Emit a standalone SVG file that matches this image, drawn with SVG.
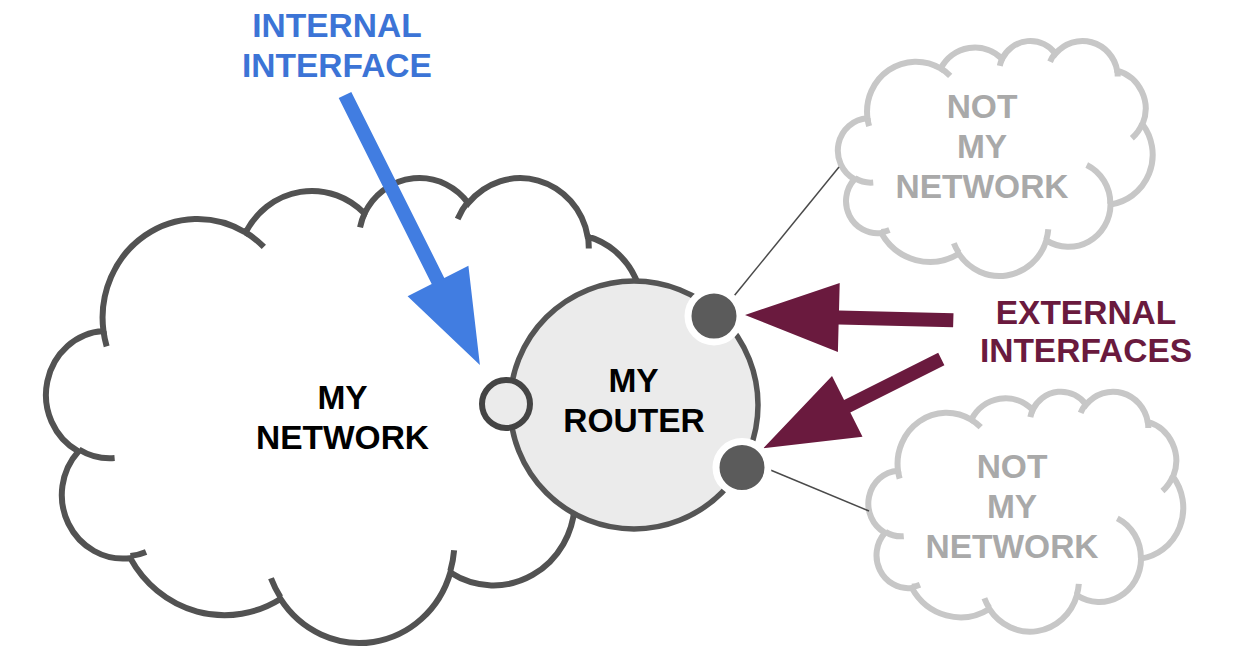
<svg xmlns="http://www.w3.org/2000/svg" width="1257" height="658" viewBox="0 0 1257 658">
<style>
.t{font-family:"Liberation Sans",Arial,Helvetica,sans-serif;font-weight:bold;font-size:33.5px;text-anchor:middle}
.cl{fill:#ffffff;stroke-width:6;vector-effect:non-scaling-stroke;stroke-linejoin:miter}
.hk{fill:none;stroke-width:6;vector-effect:non-scaling-stroke;stroke-linecap:butt}
.dark{stroke:#525252}
.light{stroke:#c7c7c7}
.ext{fill:#5b5b5b;stroke:#ffffff;stroke-width:7}
.thin{stroke:#4a4a4a;stroke-width:1.5;fill:none}
</style>
<rect width="1257" height="658" fill="#ffffff"/>

<g id="my-network">
<path class="cl dark" transform="translate(48.6,176.5) scale(0.014067,0.010758)" d="M3900,14370 A6753,9190 0 0 1 14005,5202 A5333,7267 0 0 1 22456,3433 A4365,5945 0 0 1 29833,2482 A4857,6595 0 0 1 38318,5577 A5333,7273 0 0 1 41818,15461 A6775,9220 0 0 1 37406,30208 A5785,7867 0 0 1 28558,36818 A6752,9215 0 0 1 16484,39272 A7720,10543 0 0 1 5807,35476 A4360,5918 0 0 1 2116,25554 A4345,5945 0 0 1 3900,14370 Z"/>
<path class="hk dark" transform="translate(48.6,176.5) scale(0.014067,0.010758)" d="M4693,26177 A4345,5945 0 0 1 2159,25379 M6928,34899 A4360,5918 0 0 1 5819,35281 M16478,39090 A6752,9215 0 0 1 15809,37347 M28827,34751 A6752,9215 0 0 1 28560,36660 M34129,22954 A5785,7867 0 0 1 37381,30090 M41798,15354 A5333,7273 0 0 1 40350,18031 M38324,5426 A4857,6595 0 0 1 38400,6690 M29078,3952 A4857,6595 0 0 1 29820,2340 M22141,4720 A4365,5945 0 0 1 22500,3330 M14000,5192 A6753,9190 0 0 1 15301,6542 M4127,15789 A6753,9190 0 0 1 3900,14370"/>
<text class="t" x="342.5" y="408.5" fill="#000000">MY</text>
<text class="t" x="342.5" y="448.5" fill="#000000">NETWORK</text>
</g>

<g id="not-my-network-1">
<path class="cl light" transform="translate(839.2,40.2) scale(0.007253,0.005437)" d="M3900,14370 A6753,9190 0 0 1 14005,5202 A5333,7267 0 0 1 22456,3433 A4365,5945 0 0 1 29833,2482 A4857,6595 0 0 1 38318,5577 A5333,7273 0 0 1 41818,15461 A6775,9220 0 0 1 37406,30208 A5785,7867 0 0 1 28558,36818 A6752,9215 0 0 1 16484,39272 A7720,10543 0 0 1 5807,35476 A4360,5918 0 0 1 2116,25554 A4345,5945 0 0 1 3900,14370 Z"/>
<path class="hk light" transform="translate(839.2,40.2) scale(0.007253,0.005437)" d="M4693,26177 A4345,5945 0 0 1 2159,25379 M6928,34899 A4360,5918 0 0 1 5819,35281 M16478,39090 A6752,9215 0 0 1 15809,37347 M28827,34751 A6752,9215 0 0 1 28560,36660 M34129,22954 A5785,7867 0 0 1 37381,30090 M41798,15354 A5333,7273 0 0 1 40350,18031 M38324,5426 A4857,6595 0 0 1 38400,6690 M29078,3952 A4857,6595 0 0 1 29820,2340 M22141,4720 A4365,5945 0 0 1 22500,3330 M14000,5192 A6753,9190 0 0 1 15301,6542 M4127,15789 A6753,9190 0 0 1 3900,14370"/>
<text class="t" x="982" y="118.3" fill="#a9a9a9">NOT</text>
<text class="t" x="982" y="158.3" fill="#a9a9a9">MY</text>
<text class="t" x="982" y="198.3" fill="#a9a9a9">NETWORK</text>
</g>

<g id="not-my-network-2">
<path class="cl light" transform="translate(869.7,390.9) scale(0.007255,0.005553)" d="M3900,14370 A6753,9190 0 0 1 14005,5202 A5333,7267 0 0 1 22456,3433 A4365,5945 0 0 1 29833,2482 A4857,6595 0 0 1 38318,5577 A5333,7273 0 0 1 41818,15461 A6775,9220 0 0 1 37406,30208 A5785,7867 0 0 1 28558,36818 A6752,9215 0 0 1 16484,39272 A7720,10543 0 0 1 5807,35476 A4360,5918 0 0 1 2116,25554 A4345,5945 0 0 1 3900,14370 Z"/>
<path class="hk light" transform="translate(869.7,390.9) scale(0.007255,0.005553)" d="M4693,26177 A4345,5945 0 0 1 2159,25379 M6928,34899 A4360,5918 0 0 1 5819,35281 M16478,39090 A6752,9215 0 0 1 15809,37347 M28827,34751 A6752,9215 0 0 1 28560,36660 M34129,22954 A5785,7867 0 0 1 37381,30090 M41798,15354 A5333,7273 0 0 1 40350,18031 M38324,5426 A4857,6595 0 0 1 38400,6690 M29078,3952 A4857,6595 0 0 1 29820,2340 M22141,4720 A4365,5945 0 0 1 22500,3330 M14000,5192 A6753,9190 0 0 1 15301,6542 M4127,15789 A6753,9190 0 0 1 3900,14370"/>
<text class="t" x="1012" y="478.3" fill="#a9a9a9">NOT</text>
<text class="t" x="1012" y="518.3" fill="#a9a9a9">MY</text>
<text class="t" x="1012" y="558.3" fill="#a9a9a9">NETWORK</text>
</g>

<g id="my-router">
<circle cx="634" cy="405" r="124" fill="#ebebeb" stroke="#555555" stroke-width="5.5"/>
<text class="t" x="633.5" y="391.7" fill="#000000">MY</text>
<text class="t" x="634" y="431.7" fill="#000000">ROUTER</text>
</g>

<g id="internal-interface">
<circle cx="506" cy="404" r="24" fill="#ebebeb" stroke="#444444" stroke-width="6"/>
</g>

<g id="connectors">
<line class="thin" x1="734" y1="296" x2="839" y2="167"/>
<line class="thin" x1="768" y1="469" x2="869" y2="511"/>
<path fill="#417de1" d="M351.3,91.9 L444.3,277.9 L468.4,265.8 L479.9,364.9 L407.6,296.2 L431.7,284.1 L338.7,98.1 Z"/>
<path fill="#6a1a3e" d="M953.5,313.3 L839.0,310.4 L839.7,282.9 L745,315 L837.9,351.9 L838.6,324.4 L953.1,327.3 Z"/>
<path fill="#6a1a3e" d="M944.4,365.3 L850.3,412.6 L862.5,436.7 L763.3,448.3 L832.0,375.9 L844.1,400.0 L938.2,352.7 Z"/>
</g>

<g id="external-interface-1">
<circle class="ext" cx="714" cy="316" r="26"/>
</g>
<g id="external-interface-2">
<circle class="ext" cx="742" cy="467.5" r="26"/>
</g>

<g id="label-internal">
<text class="t" x="337" y="36.7" fill="#3c74d6">INTERNAL</text>
<text class="t" x="337" y="76.7" fill="#3c74d6">INTERFACE</text>
</g>
<g id="label-external">
<text class="t" x="1086" y="324" fill="#6a1a3e">EXTERNAL</text>
<text class="t" x="1086" y="362" fill="#6a1a3e">INTERFACES</text>
</g>
</svg>
